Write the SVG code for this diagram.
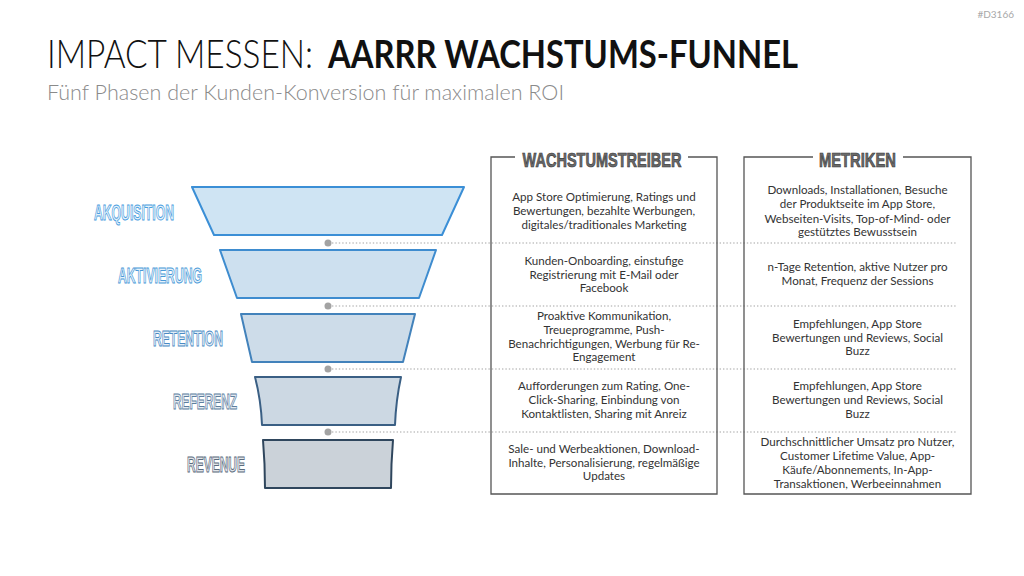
<svg xmlns="http://www.w3.org/2000/svg" width="1024" height="576" viewBox="0 0 1024 576">
<style>
.body{font-family:Lato,"Liberation Sans",sans-serif;font-size:11.6px;fill:#333;text-anchor:middle}
.lbl{font-family:"Liberation Sans",Arial,sans-serif;font-weight:bold;font-size:22px;stroke-width:1;text-anchor:end}
.hdr{font-family:"Liberation Sans",Arial,sans-serif;font-weight:bold;font-size:21px;fill:#6b6b6b;stroke:#333;stroke-width:0.7;text-anchor:middle}
.box{fill:none;stroke:#555;stroke-width:1.3}
.dot{fill:#a3a3a3}
.dl{stroke:#a3a3a3;stroke-width:1.2;stroke-dasharray:1.4 2}
.stage{stroke-width:2;stroke-linejoin:round}
</style>
<rect width="1024" height="576" fill="#fff"/>
<text x="1014" y="18" font-family="Lato,'Liberation Sans',sans-serif" font-size="10" fill="#a8a8a8" text-anchor="end">#D3166</text>
<text x="47" y="68" font-family="Lato,'Liberation Sans',sans-serif" font-weight="300" font-size="39" fill="#111" textLength="266" lengthAdjust="spacingAndGlyphs">IMPACT MESSEN:</text>
<text x="328" y="68" font-family="Lato,'Liberation Sans',sans-serif" font-weight="bold" font-size="39" fill="#111" textLength="470" lengthAdjust="spacingAndGlyphs">AARRR WACHSTUMS-FUNNEL</text>
<text x="47" y="100" font-family="Lato,'Liberation Sans',sans-serif" font-weight="300" font-size="21" fill="#8a8a8a" textLength="517" lengthAdjust="spacingAndGlyphs">Fünf Phasen der Kunden-Konversion für maximalen ROI</text>

<g id="connectors">
<line class="dl" x1="332" y1="243" x2="957" y2="243"/>
<line class="dl" x1="332" y1="306" x2="957" y2="306"/>
<line class="dl" x1="332" y1="369" x2="957" y2="369"/>
<line class="dl" x1="332" y1="432" x2="957" y2="432"/>
<circle class="dot" cx="328" cy="243" r="3.5"/>
<circle class="dot" cx="328" cy="306" r="3.5"/>
<circle class="dot" cx="328" cy="369" r="3.5"/>
<circle class="dot" cx="328" cy="432" r="3.5"/>
</g>

<g id="akquisition">
<path class="stage" d="M192 187 L464 187 L442 235 L214 235 Z" fill="#cfe4f3" stroke="#3b8fd6"/>
<text class="lbl" x="174" y="220" fill="#e6f2fb" stroke="#4a9ee0" textLength="80" lengthAdjust="spacingAndGlyphs">AKQUISITION</text>
</g>
<g id="aktivierung">
<path class="stage" d="M220 250 L436 250 L419 298 L237 298 Z" fill="#cde0ef" stroke="#3e8ccf"/>
<text class="lbl" x="202" y="283" fill="#e6f2fb" stroke="#4a9ad8" textLength="84" lengthAdjust="spacingAndGlyphs">AKTIVIERUNG</text>
</g>
<g id="retention">
<path class="stage" d="M241 314 L415 314 L403 362 L252 362 Z" fill="#cddce9" stroke="#4282bb"/>
<text class="lbl" x="223" y="346" fill="#e4eef7" stroke="#4a8ac4" textLength="70" lengthAdjust="spacingAndGlyphs">RETENTION</text>
</g>
<g id="referenz">
<path class="stage" d="M255 377 L401 377 Q396 400 395 425 L262 425 Q261 400 255 377 Z" fill="#ccd8e3" stroke="#3a5f84"/>
<text class="lbl" x="237" y="409" fill="#e3eaf1" stroke="#5d7e9e" textLength="64" lengthAdjust="spacingAndGlyphs">REFERENZ</text>
</g>
<g id="revenue">
<path class="stage" d="M263 440 L393 440 Q391 464 391 488 L265 488 Q265 464 263 440 Z" fill="#cbd2d9" stroke="#2f465d"/>
<text class="lbl" x="245" y="472" fill="#e2e6ea" stroke="#5b6b7d" textLength="58" lengthAdjust="spacingAndGlyphs">REVENUE</text>
</g>

<g id="wachstumstreiber">
<path class="box" d="M515 157 L491 157 L491 494 L717 494 L717 157 L688 157"/>
<text class="hdr" x="602" y="167" textLength="159" lengthAdjust="spacingAndGlyphs">WACHSTUMSTREIBER</text>
<text class="body"><tspan x="604" y="201">App Store Optimierung, Ratings und</tspan><tspan x="604" y="215">Bewertungen, bezahlte Werbungen,</tspan><tspan x="604" y="229">digitales/traditionales Marketing</tspan></text>
<text class="body"><tspan x="604" y="265">Kunden-Onboarding, einstufige</tspan><tspan x="604" y="278.5">Registrierung mit E-Mail oder</tspan><tspan x="604" y="292">Facebook</tspan></text>
<text class="body"><tspan x="604" y="320">Proaktive Kommunikation,</tspan><tspan x="604" y="334">Treueprogramme, Push-</tspan><tspan x="604" y="347.5">Benachrichtigungen, Werbung für Re-</tspan><tspan x="604" y="361">Engagement</tspan></text>
<text class="body"><tspan x="604" y="390">Aufforderungen zum Rating, One-</tspan><tspan x="604" y="404">Click-Sharing, Einbindung von</tspan><tspan x="604" y="417.5">Kontaktlisten, Sharing mit Anreiz</tspan></text>
<text class="body"><tspan x="604" y="452.5">Sale- und Werbeaktionen, Download-</tspan><tspan x="604" y="466.5">Inhalte, Personalisierung, regelmäßige</tspan><tspan x="604" y="480">Updates</tspan></text>
</g>

<g id="metriken">
<path class="box" d="M813 157 L744 157 L744 494 L971 494 L971 157 L903 157"/>
<text class="hdr" x="857.5" y="167" textLength="77" lengthAdjust="spacingAndGlyphs">METRIKEN</text>
<text class="body"><tspan x="857.5" y="194">Downloads, Installationen, Besuche</tspan><tspan x="857.5" y="208">der Produktseite im App Store,</tspan><tspan x="857.5" y="222.5">Webseiten-Visits, Top-of-Mind- oder</tspan><tspan x="857.5" y="236">gestütztes Bewusstsein</tspan></text>
<text class="body"><tspan x="857.5" y="271">n-Tage Retention, aktive Nutzer pro</tspan><tspan x="857.5" y="285">Monat, Frequenz der Sessions</tspan></text>
<text class="body"><tspan x="857.5" y="328">Empfehlungen, App Store</tspan><tspan x="857.5" y="341.5">Bewertungen und Reviews, Social</tspan><tspan x="857.5" y="355">Buzz</tspan></text>
<text class="body"><tspan x="857.5" y="390">Empfehlungen, App Store</tspan><tspan x="857.5" y="404">Bewertungen und Reviews, Social</tspan><tspan x="857.5" y="417.5">Buzz</tspan></text>
<text class="body"><tspan x="857.5" y="446">Durchschnittlicher Umsatz pro Nutzer,</tspan><tspan x="857.5" y="460">Customer Lifetime Value, App-</tspan><tspan x="857.5" y="474">Käufe/Abonnements, In-App-</tspan><tspan x="857.5" y="487.5">Transaktionen, Werbeeinnahmen</tspan></text>
</g>
</svg>
